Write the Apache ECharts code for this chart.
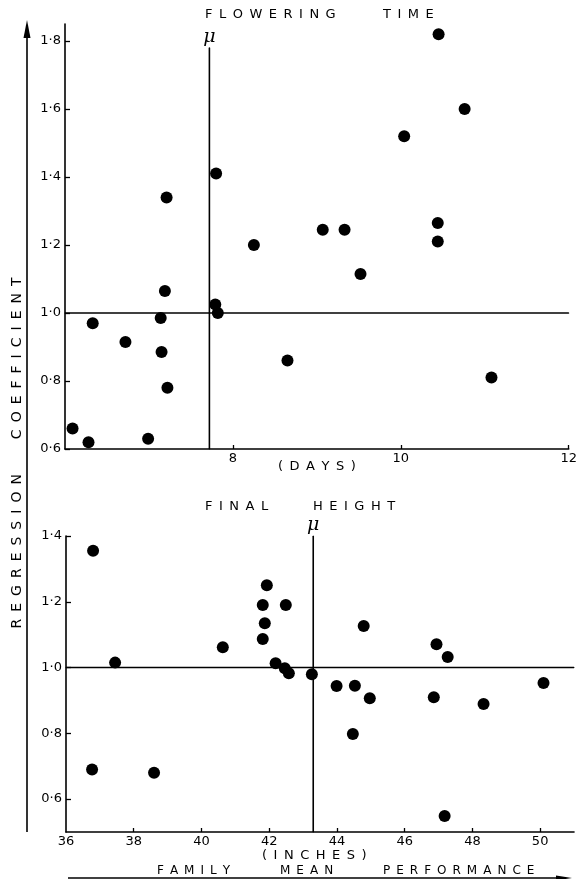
<!DOCTYPE html>
<html>
<head>
<meta charset="utf-8">
<script src="https://cdn.jsdelivr.net/npm/echarts@6/dist/echarts.min.js"></script>
<style>html,body{margin:0;padding:0;background:#fff}#c{width:580px;height:879px}</style>
</head>
<body>
<div id="c"></div>
<script>
// ---- Data ----
const flowerDays = [10.45, 10.76, 10.04, 10.44, 10.44, 9.07, 9.33, 9.52, 8.65, 11.08, 8.25, 7.80, 7.21, 7.19, 7.14, 7.15, 7.22, 6.33, 6.72, 6.09, 6.28, 6.99, 7.79, 7.82];
const flowerCoef = [1.82, 1.60, 1.52, 1.265, 1.21, 1.245, 1.245, 1.115, 0.86, 0.81, 1.20, 1.41, 1.34, 1.065, 0.985, 0.885, 0.78, 0.97, 0.915, 0.66, 0.62, 0.63, 1.025, 1.0];
const heightInches = [36.8, 37.45, 41.93, 41.81, 42.49, 41.87, 41.81, 40.63, 42.19, 42.46, 42.58, 44.79, 46.94, 47.27, 43.26, 43.99, 44.53, 44.97, 44.47, 46.86, 48.33, 50.10, 47.18, 36.77, 38.6];
const heightCoef = [1.355, 1.015, 1.25, 1.19, 1.19, 1.135, 1.087, 1.062, 1.013, 0.998, 0.983, 1.126, 1.071, 1.032, 0.98, 0.944, 0.945, 0.907, 0.798, 0.91, 0.889, 0.953, 0.549, 0.69, 0.68];

const muDays = 7.72, muDaysTop = 1.78;
const muInches = 43.3, muInchesTop = 1.4;
const refCoef = 1.0;

const flowerXTicks = [8, 10, 12];
const flowerYTicks = [0.6, 0.8, 1.0, 1.2, 1.4, 1.6, 1.8];
const heightXTicks = [36, 38, 40, 42, 44, 46, 48, 50];
const heightYTicks = [0.6, 0.8, 1.0, 1.2, 1.4];
const flowerXRange = [6, 12], flowerYRange = [0.6, 1.85];
const heightXRange = [36, 51], heightYRange = [0.5, 1.4];

// ---- helpers ----
const sp = s => s.split('').join('\u2002');
const dot = v => v.toFixed(1).replace('.', '\u00b7');
const FONT = 'DejaVu Sans';

function xAx(grid, range, ticks, labelTicks) {
  return {
    type: 'value', gridIndex: grid, min: range[0], max: range[1],
    axisLine: {show: true, onZero: false, lineStyle: {color: '#000', width: 1.6}},
    axisTick: {show: true, inside: true, length: 4, customValues: ticks, lineStyle: {color: '#000', width: 1.3}},
    axisLabel: {customValues: labelTicks, color: '#000', fontSize: 13, fontFamily: FONT, margin: 3},
    splitLine: {show: false}
  };
}
function yAx(grid, range, ticks) {
  return {
    type: 'value', gridIndex: grid, min: range[0], max: range[1],
    axisLine: {show: true, onZero: false, lineStyle: {color: '#000', width: 1.6}},
    axisTick: {show: true, inside: true, length: 5, customValues: ticks, lineStyle: {color: '#000', width: 1.3}},
    axisLabel: {customValues: ticks, color: '#000', fontSize: 13, fontFamily: FONT, margin: 4, formatter: dot},
    splitLine: {show: false}
  };
}
function refLine(xi, yi, pts, labelIdx) {
  return {
    type: 'line', xAxisIndex: xi, yAxisIndex: yi, silent: true, animation: false,
    symbol: 'circle', symbolSize: 1, itemStyle: {color: '#000'},
    lineStyle: {color: '#000', width: 1.6},
    data: pts.map((p, i) => i === labelIdx ? {
      value: p,
      label: {show: true, position: 'top', distance: 1, formatter: '\u03bc', color: '#000',
              fontSize: 19, fontStyle: 'italic', fontFamily: 'DejaVu Serif'}
    } : {value: p})
  };
}
function scatter(xi, yi, xs, ys) {
  return {
    type: 'scatter', xAxisIndex: xi, yAxisIndex: yi, symbolSize: 12, animation: false,
    itemStyle: {color: '#000', opacity: 1},
    data: xs.map((x, i) => [x, ys[i]])
  };
}
function txt(x, y, s, size, extra) {
  return Object.assign({
    type: 'text', x: x, y: y, silent: true,
    style: {text: s, fill: '#000', font: size + 'px "' + FONT + '"', textVerticalAlign: 'middle'}
  }, extra || {});
}

const vLabel = sp('REGRESSION') + '\u2003\u2003\u2002' + sp('COEFFICIENT');

const chart = echarts.init(document.getElementById('c'), null, {renderer: 'canvas'});
chart.setOption({
  backgroundColor: '#fff',
  animation: false,
  grid: [
    {left: 65, top: 24, width: 508, height: 425},
    {left: 66, top: 536, width: 508, height: 296}
  ],
  xAxis: [
    xAx(0, flowerXRange, flowerXTicks, flowerXTicks),
    xAx(1, heightXRange, heightXTicks.slice(1), heightXTicks)
  ],
  yAxis: [
    yAx(0, flowerYRange, flowerYTicks),
    yAx(1, heightYRange, heightYTicks)
  ],
  series: [
    refLine(0, 0, [[flowerXRange[0], refCoef], [flowerXRange[1], refCoef]], -1),
    refLine(0, 0, [[muDays, flowerYRange[0]], [muDays, muDaysTop]], 1),
    scatter(0, 0, flowerDays, flowerCoef),
    refLine(1, 1, [[heightXRange[0], refCoef], [heightXRange[1], refCoef]], -1),
    refLine(1, 1, [[muInches, heightYRange[0]], [muInches, muInchesTop]], 1),
    scatter(1, 1, heightInches, heightCoef)
  ],
  graphic: [
    txt(205, 15, sp('FLOWERING'), 13),
    txt(383, 15, sp('TIME'), 13),
    txt(278, 467, sp('(DAYS)'), 13),
    txt(205, 507, sp('FINAL'), 13),
    txt(313, 507, sp('HEIGHT'), 13),
    txt(262, 856, sp('(INCHES)'), 13),
    txt(157, 871, sp('FAMILY'), 12),
    txt(280, 871, sp('MEAN'), 12),
    txt(383, 871, sp('PERFORMANCE'), 12),
    {type: 'text', x: 17, y: 453, rotation: Math.PI / 2, silent: true,
     style: {text: vLabel, fill: '#000', font: '14px "' + FONT + '"', textAlign: 'center', textVerticalAlign: 'middle'}},
    {type: 'line', silent: true, shape: {x1: 27, y1: 832, x2: 27, y2: 30}, style: {stroke: '#000', lineWidth: 1.6}},
    {type: 'polygon', silent: true, shape: {points: [[27, 20], [23.5, 38], [30.5, 38]]}, style: {fill: '#000'}},
    {type: 'line', silent: true, shape: {x1: 68, y1: 878, x2: 566, y2: 878}, style: {stroke: '#000', lineWidth: 1.6}},
    {type: 'polygon', silent: true, shape: {points: [[572, 878], [556, 875.5], [556, 880.5]]}, style: {fill: '#000'}}
  ]
});
</script>
</body>
</html>
